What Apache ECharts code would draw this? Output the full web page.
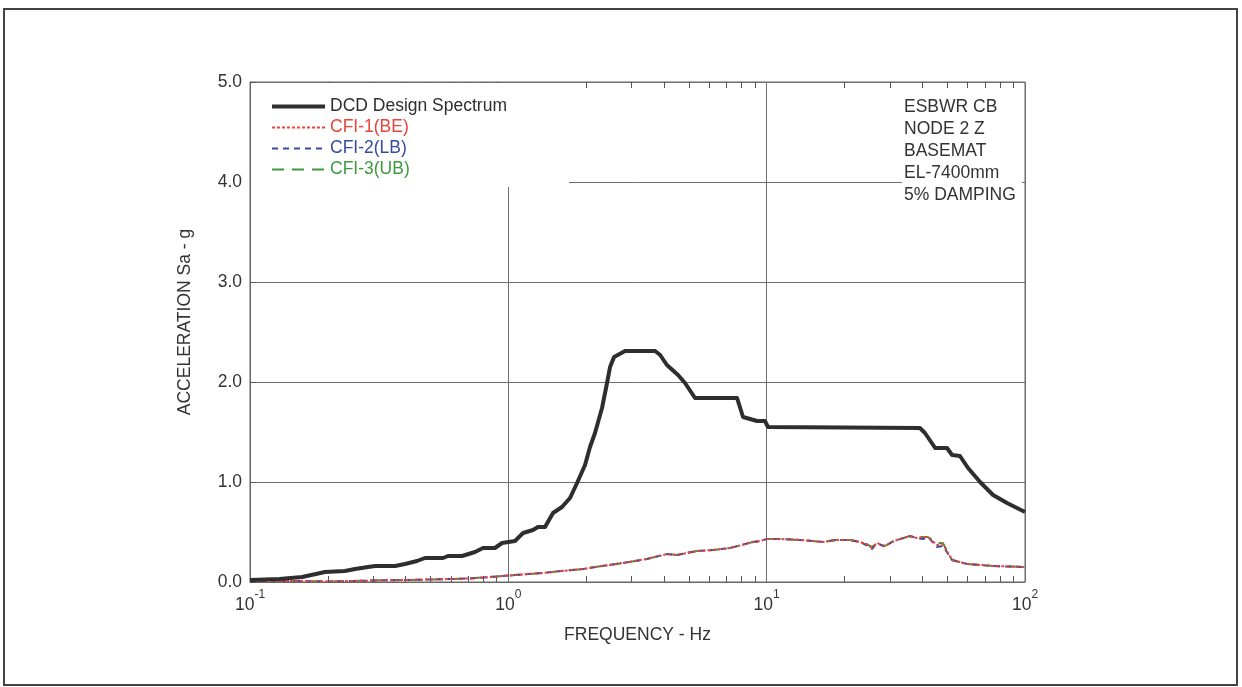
<!DOCTYPE html>
<html>
<head>
<meta charset="utf-8">
<title>ESBWR CB Node 2 Z Basemat Spectra</title>
<script src="https://cdn.jsdelivr.net/npm/echarts@6/dist/echarts.min.js"></script>
<style>
  html, body { margin: 0; padding: 0; background: #ffffff; }
  #chart { width: 1242px; height: 687px; }
</style>
</head>
<body>
<div id="chart"></div>
<script>
// DCD design spectrum: frequency (Hz) and spectral acceleration (g)
const dcdFreq = [0.1, 0.13, 0.159, 0.18, 0.195, 0.233, 0.255, 0.286, 0.305, 0.364, 0.398, 0.443, 0.476,
  0.559, 0.584, 0.662, 0.743, 0.798, 0.888, 0.945, 1.061, 1.14, 1.246, 1.302, 1.387, 1.489, 1.613,
  1.733, 1.845, 1.981, 2.071, 2.165, 2.305, 2.41, 2.476, 2.566, 2.83, 3.7, 3.87, 4.11, 4.54, 4.83,
  5.28, 7.68, 8.10, 9.18, 9.85, 10.12, 39.2, 41.0, 44.9, 49.9, 52.2, 56.0, 60.2, 67.0, 75.2, 85.2, 100];
const dcdAcc = [0.02, 0.03, 0.05, 0.08, 0.10, 0.11, 0.13, 0.15, 0.16, 0.16, 0.18, 0.21, 0.24,
  0.24, 0.26, 0.26, 0.30, 0.34, 0.34, 0.39, 0.41, 0.49, 0.52, 0.55, 0.55, 0.69, 0.75,
  0.84, 0.99, 1.17, 1.35, 1.49, 1.74, 1.99, 2.15, 2.25, 2.31, 2.31, 2.27, 2.17, 2.07, 1.99,
  1.84, 1.84, 1.65, 1.61, 1.61, 1.55, 1.54, 1.49, 1.34, 1.34, 1.27, 1.26, 1.14, 1.00, 0.87, 0.79, 0.70];

// CFI soil cases, sampled on a common frequency list
const cfiFreq = [0.1, 0.12, 0.15, 0.2, 0.25, 0.3, 0.4, 0.5, 0.6, 0.7, 0.8, 0.9, 1.0, 1.2, 1.36, 1.6,
  1.95, 2.3, 2.78, 3.44, 4.11, 4.5, 5.37, 6.2, 7.21, 8.0, 8.85, 9.42, 10.0, 11.26, 13.46, 15.0,
  16.53, 18.5, 21.02, 22.98, 24.3, 25.57, 26.73, 28.72, 30.5, 31.95, 35.87, 38.0, 40.3, 42.1,
  45.6, 48.1, 52.2, 59.7, 75.2, 100];
const cfi1BE = [0.01, 0.01, 0.01, 0.005, 0.01, 0.015, 0.02, 0.025, 0.03, 0.035, 0.045, 0.055, 0.065, 0.08, 0.09, 0.11,
  0.13, 0.16, 0.19, 0.23, 0.28, 0.27, 0.31, 0.32, 0.34, 0.37, 0.40, 0.41, 0.43, 0.43, 0.42, 0.41,
  0.40, 0.42, 0.42, 0.40, 0.38, 0.34, 0.39, 0.36, 0.40, 0.42, 0.46, 0.44, 0.45, 0.45,
  0.37, 0.38, 0.22, 0.18, 0.16, 0.15];
const cfi2LB = [0.01, 0.01, 0.01, 0.005, 0.01, 0.015, 0.02, 0.025, 0.03, 0.035, 0.045, 0.055, 0.065, 0.08, 0.09, 0.11,
  0.13, 0.16, 0.19, 0.23, 0.28, 0.27, 0.31, 0.32, 0.34, 0.37, 0.40, 0.41, 0.43, 0.43, 0.42, 0.41,
  0.40, 0.42, 0.42, 0.40, 0.37, 0.33, 0.39, 0.35, 0.40, 0.42, 0.46, 0.44, 0.43, 0.45,
  0.35, 0.36, 0.22, 0.18, 0.16, 0.15];
const cfi3UB = [0.01, 0.01, 0.01, 0.005, 0.01, 0.015, 0.02, 0.025, 0.03, 0.035, 0.045, 0.055, 0.065, 0.08, 0.09, 0.11,
  0.13, 0.16, 0.19, 0.23, 0.28, 0.27, 0.31, 0.32, 0.34, 0.37, 0.40, 0.41, 0.43, 0.43, 0.42, 0.41,
  0.40, 0.42, 0.42, 0.40, 0.38, 0.35, 0.39, 0.36, 0.40, 0.42, 0.46, 0.44, 0.45, 0.45,
  0.39, 0.39, 0.22, 0.18, 0.16, 0.15];

// Axis ticks
const decadeTicks = [0.1, 1, 10, 100];
const minorTicks = [0.2, 0.3, 0.4, 0.5, 0.6, 0.7, 0.8, 0.9, 2, 3, 4, 5, 6, 7, 8, 9,
  20, 30, 40, 50, 60, 70, 80, 90];

// Plot annotation
const noteLines = ['ESBWR CB', 'NODE 2 Z', 'BASEMAT', 'EL-7400mm', '5% DAMPING'];

const seriesNames = ['DCD Design Spectrum', 'CFI-1(BE)', 'CFI-2(LB)', 'CFI-3(UB)'];

const FONT = '"Liberation Sans", Arial, sans-serif';
const TXT = '#333333';
const FS = 17.5;

const C_DCD = '#2e2e2e';
const C_BE = '#e8453c';
const C_LB = '#3b4a9e';
const C_UB = '#3f9a3f';

const DASH_BE = [3, 2];
const DASH_LB = [6, 5];
const DASH_UB = [12, 8];

function pairs(xs, ys) { return xs.map((x, i) => [x, ys[i]]); }

function expOf(v) { return Math.round(Math.log10(v)); }

const chart = echarts.init(document.getElementById('chart'), null, { renderer: 'canvas' });

const minorAxisBase = {
  type: 'log', logBase: 10, min: 0.1, max: 100,
  gridIndex: 0,
  axisLine: { show: false },
  axisLabel: { show: false },
  splitLine: { show: false },
  axisTick: {
    show: true, inside: true, length: 6,
    customValues: minorTicks,
    lineStyle: { color: '#555', width: 1 }
  }
};

function legendItem(name, color, width, dash) {
  return {
    name: name,
    textStyle: { color: color },
    itemStyle: { opacity: 0 },
    lineStyle: { color: color, width: width, type: dash, opacity: 1 }
  };
}

chart.setOption({
  backgroundColor: '#ffffff',
  animation: false,
  textStyle: { fontFamily: FONT },
  grid: {
    left: 250, right: 217, top: 82, bottom: 105,
    show: true, borderColor: '#666', borderWidth: 1, backgroundColor: 'transparent'
  },
  graphic: [{
    type: 'rect',
    shape: { x: 4, y: 9, width: 1233, height: 676 },
    style: { fill: 'none', stroke: '#444', lineWidth: 2 },
    silent: true
  }],
  title: {
    text: noteLines.join('\n'),
    left: 902, top: 96,
    padding: [0, 6, 6, 2],
    backgroundColor: '#ffffff',
    textStyle: { fontFamily: FONT, fontSize: FS, fontWeight: 'normal', color: TXT, lineHeight: 22 }
  },
  legend: {
    orient: 'vertical',
    left: 251, top: 83,
    padding: [13, 62, 7, 19],
    backgroundColor: '#ffffff',
    itemWidth: 53, itemHeight: 14, itemGap: 0,
    itemStyle: { opacity: 0 },
    textStyle: { fontFamily: FONT, fontSize: FS, lineHeight: 21, color: TXT },
    data: [
      legendItem(seriesNames[0], C_DCD, 4, 'solid'),
      legendItem(seriesNames[1], C_BE, 2, DASH_BE),
      legendItem(seriesNames[2], C_LB, 2, DASH_LB),
      legendItem(seriesNames[3], C_UB, 2, DASH_UB)
    ]
  },
  xAxis: [
    {
      type: 'log', logBase: 10, min: 0.1, max: 100,
      position: 'bottom',
      name: 'FREQUENCY - Hz',
      nameLocation: 'middle', nameGap: 44,
      nameTextStyle: { fontFamily: FONT, fontSize: FS, color: TXT },
      axisLine: { show: true, lineStyle: { color: '#666', width: 1 } },
      axisTick: { show: false },
      splitLine: { show: true, lineStyle: { color: '#6f6f6f', width: 1 } },
      axisLabel: {
        margin: 7,
        customValues: decadeTicks,
        formatter: v => '{b|10}{s|' + expOf(v) + '}',
        rich: {
          b: { fontFamily: FONT, fontSize: FS, color: TXT, verticalAlign: 'bottom', padding: [7, 0, 0, 0] },
          s: { fontFamily: FONT, fontSize: 12, color: TXT, verticalAlign: 'top' }
        }
      }
    },
    Object.assign({}, minorAxisBase, { position: 'bottom' }),
    Object.assign({}, minorAxisBase, { position: 'top' })
  ],
  yAxis: [
    {
      type: 'value', min: 0, max: 5, interval: 1,
      name: 'ACCELERATION Sa - g',
      nameLocation: 'middle', nameGap: 56,
      nameTextStyle: { fontFamily: FONT, fontSize: FS, color: TXT, padding: [0, 0, 0, 20] },
      axisLine: { show: true, lineStyle: { color: '#666', width: 1 } },
      axisTick: { show: true, inside: true, length: 6, lineStyle: { color: '#555' } },
      splitLine: { show: true, lineStyle: { color: '#6f6f6f', width: 1 } },
      axisLabel: {
        margin: 8, fontFamily: FONT, fontSize: FS, color: TXT,
        formatter: v => v.toFixed(1)
      }
    }
  ],
  series: [
    {
      name: seriesNames[3], type: 'line', xAxisIndex: 0, yAxisIndex: 0,
      data: pairs(cfiFreq, cfi3UB), showSymbol: false, symbol: 'none', z: 3,
      lineStyle: { color: C_UB, width: 2, type: DASH_UB },
      itemStyle: { color: C_UB }
    },
    {
      name: seriesNames[2], type: 'line', xAxisIndex: 0, yAxisIndex: 0,
      data: pairs(cfiFreq, cfi2LB), showSymbol: false, symbol: 'none', z: 4,
      lineStyle: { color: C_LB, width: 2, type: DASH_LB },
      itemStyle: { color: C_LB }
    },
    {
      name: seriesNames[1], type: 'line', xAxisIndex: 0, yAxisIndex: 0,
      data: pairs(cfiFreq, cfi1BE), showSymbol: false, symbol: 'none', z: 5,
      lineStyle: { color: C_BE, width: 2, type: DASH_BE },
      itemStyle: { color: C_BE }
    },
    {
      name: seriesNames[0], type: 'line', xAxisIndex: 0, yAxisIndex: 0,
      data: pairs(dcdFreq, dcdAcc), showSymbol: false, symbol: 'none', z: 6,
      lineStyle: { color: C_DCD, width: 4, join: 'round' },
      itemStyle: { color: C_DCD }
    }
  ]
});
</script>
</body>
</html>
